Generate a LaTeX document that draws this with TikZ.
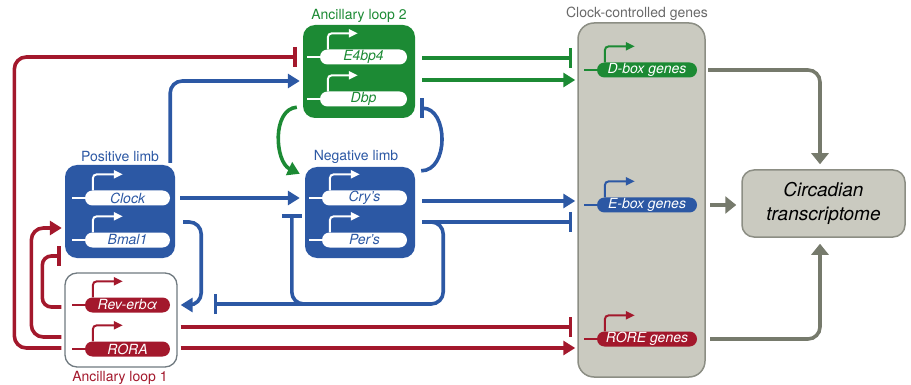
\documentclass[tikz,border=0pt]{standalone}
\usepackage{fontspec}
\setmainfont{TeX Gyre Heros}
\usetikzlibrary{arrows.meta,calc}
\definecolor{cblue}{RGB}{44,88,164}
\definecolor{cgreen}{RGB}{28,138,52}
\definecolor{cred}{RGB}{163,24,44}
\definecolor{cgrayfill}{RGB}{202,202,192}
\definecolor{cgrayline}{RGB}{140,142,132}
\definecolor{carrowgray}{RGB}{118,122,108}
\definecolor{clabgray}{RGB}{105,105,105}
\definecolor{cborder}{RGB}{112,122,128}
\newcommand{\genepill}[6]{%
  \node[pill, minimum width=#3, fill=#4, text=#5] (#1) at #2 {#6};
  \draw[stub, draw=#4] (#1.west) -- ++(-13,0);
  \draw[prom, draw=#4] ([xshift=8pt]#1.north west) -- ++(0,-16) -- ++(30,0);
}
\begin{document}
\begin{tikzpicture}[x=1pt,y=-1pt,
  box/.style={rectangle, rounded corners=12pt, inner sep=0pt},
  pill/.style={rectangle, rounded corners=7.5pt, minimum height=15pt, inner sep=0pt,
    font=\fontsize{14}{16}\selectfont\itshape},
  lab/.style={font=\fontsize{14}{16}\selectfont, inner sep=0pt},
  stub/.style={line width=2pt},
  prom/.style={line width=2pt, rounded corners=4pt, -{Triangle[length=9pt,width=8pt]}},
  conn/.style={line width=3.6pt},
  act/.style={conn, -{Triangle[length=12pt,width=14pt]}},
  gact/.style={conn, -{Triangle[length=11pt,width=17pt]}},
  inh/.style={conn, -{Bar[width=20pt]}},
]
\useasboundingbox (0,0) rectangle (911,385);

% boxes
\node[box, fill=cgreen, minimum width=112pt, minimum height=93pt] (G) at (359,71.5) {};
\node[box, fill=cblue, minimum width=110pt, minimum height=93pt] (P) at (120,211.5) {};
\node[box, fill=cblue, minimum width=110pt, minimum height=91pt] (N) at (360,212.5) {};
\node[box, fill=white, draw=cborder, line width=1.3pt, minimum width=112pt, minimum height=94pt] (A) at (121,320) {};
\node[box, fill=cgrayfill, draw=cgrayline, line width=1.5pt, minimum width=127pt,
  minimum height=354pt, rounded corners=16pt] (CC) at (641.5,200) {};
\node[box, fill=cgrayfill, draw=cgrayline, line width=1.5pt, minimum width=163pt,
  minimum height=67pt, align=center, font=\fontsize{19}{24}\selectfont\itshape] (CT) at (823.5,203.5) {Circadian\\transcriptome};

% labels
\node[lab, text=cgreen] (Glab) at (359,16) {Ancillary loop 2};
\node[lab, text=cblue] (Plab) at (120,157) {Positive limb};
\node[lab, text=cblue] (Nlab) at (356,157) {Negative limb};
\node[lab, text=cred] (Alab) at (120,378) {Ancillary loop 1};
\node[lab, text=clabgray] (CClab) at (637,14) {Clock-controlled genes};

% genes
\genepill{Clock}{(127.5,198)}{85pt}{white}{cblue}{Clock}
\genepill{Bmal}{(127.5,240)}{85pt}{white}{cblue}{Bmal1}
\genepill{E4}{(363.5,57)}{87pt}{white}{cgreen}{E4bp4}
\genepill{Dbp}{(363.5,99)}{87pt}{white}{cgreen}{Dbp}
\genepill{Cry}{(364.5,198)}{85pt}{white}{cblue}{Cry's}
\genepill{Per}{(364.5,240)}{85pt}{white}{cblue}{Per's}
\genepill{Rev}{(127.5,305)}{85pt}{cred}{white}{Rev-erbα}
\genepill{RORA}{(127.5,349)}{85pt}{cred}{white}{RORA}
\genepill{Dbox}{(647,70)}{100pt}{cgreen}{white}{D-box genes}
\genepill{Ebox}{(647,205)}{100pt}{cblue}{white}{E-box genes}
\genepill{RORE}{(647,339)}{100pt}{cred}{white}{RORE genes}

% green connectors
\draw[inh, cgreen] ($(G.east)+(7,-13.5)$) -- ($(CC.west)+(-5,-142)$);
\draw[act, cgreen] ($(G.east)+(7,8.5)$) -- ($(CC.west)+(-2,-120)$);
\draw[act, cgreen] ($(G.south west)+(-6,-11)$) .. controls +(-25,2) and +(-25,-12) .. ($(N.north west)+(-5,7)$);

% blue connectors
\draw[inh, cblue] ($(N.north east)+(6,4)$) .. controls +(28,0) and +(28,0) .. ($(G.south east)+(5,-10)$);
\draw[act, cblue, rounded corners=12pt] ($(P.north east)+(-5,-2)$) |- ($(G.west)+(-3,9.5)$);
\draw[act, cblue] ($(P.east)+(5,-13.5)$) -- ($(N.west)+(-5,-14.5)$);
\draw[act, cblue, rounded corners=12pt] ($(P.east)+(8,10.5)$) -- ++(18,0) |- ($(A.east)+(3,-15)$);
\draw[act, cblue] ($(N.east)+(7,-11.5)$) -- ($(CC.west)+(-2,1)$);
\draw[inh, cblue] ($(N.east)+(7,9.5)$) -- ($(CC.west)+(-5,22)$);
\draw[inh, cblue, rounded corners=12pt] ($(N.east)+(7,9.5)$) -- ++(21,0) |- ($(A.east)+(36,-16)$);
\draw[inh, cblue, rounded corners=12pt] ($(N.west)+(10,91.5)$) -- ($(N.west)+(-13,91.5)$) -- ($(N.west)+(-13,1.5)$);

% red connectors
\draw[inh, cred, rounded corners=12pt] ($(A.west)+(-3,28)$) -- ++(-47,0) |- ($(G.west)+(-6,-14.5)$);
\draw[act, cred, rounded corners=12pt] ($(A.west)+(-3,17)$) -- ++(-30,0) |- ($(P.west)+(-3,16.5)$);
\draw[inh, cred, rounded corners=9pt] ($(A.west)+(-3,-13)$) -- ++(-19,0) |- ($(P.west)+(-4,44.5)$);
\draw[inh, cred] ($(A.east)+(3,7)$) -- ($(CC.west)+(-5,127)$);
\draw[act, cred] ($(A.east)+(3,28)$) -- ($(CC.west)+(-2,148)$);

% gray connectors
\draw[gact, carrowgray, rounded corners=12pt] ($(Dbox.east)+(11,0)$) -| ($(CT.north)+(-3.5,-5)$);
\draw[gact, carrowgray] ($(Ebox.east)+(13,0)$) -- ($(CT.west)+(-5,1.5)$);
\draw[gact, carrowgray, rounded corners=12pt] ($(RORE.east)+(13,0)$) -| ($(CT.south)+(-3.5,6)$);
\end{tikzpicture}
\end{document}
